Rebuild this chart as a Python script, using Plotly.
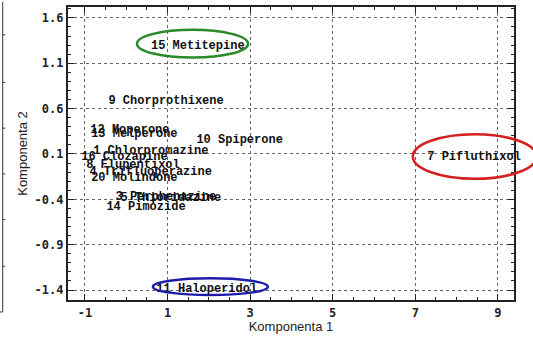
import plotly.graph_objects as go

# Component scores of the compounds (Komponenta 1, Komponenta 2)
labels = [
    "15 Metitepine", "9 Chorprothixene", "12 Moperone", "13 Melperone",
    "10 Spiperone", "1 Chlorpromazine", "16 Clozapine", "8 Flupentixol",
    "4 Trifluoperazine", "20 Molindone", "3 Perphenazine", "5 Thioridazine",
    "14 Pimozide", "11 Haloperidol", "7 Pifluthixol",
]
comp1 = [0.60, -0.43, -0.87, -0.85, 1.70, -0.80, -1.09, -0.97,
         -0.89, -0.85, -0.26, -0.14, -0.48, 0.73, 7.29]
comp2 = [1.29, 0.68, 0.36, 0.32, 0.25, 0.13, 0.07, -0.02,
         -0.10, -0.16, -0.37, -0.38, -0.48, -1.39, 0.07]

x_ticks = [-1, 1, 3, 5, 7, 9]
y_ticks = [1.6, 1.1, 0.6, 0.1, -0.4, -0.9, -1.4]
x_range = [-1.41, 9.39]
y_range = [-1.51, 1.72]

# Highlighted groups: (x0, x1, y0, y1, colour)
highlights = [
    (0.26, 2.95, 1.162, 1.469, "#2a8a2a"),
    (6.94, 9.94, -0.174, 0.318, "#d42020"),
    (0.646, 3.43, -1.456, -1.27, "#1c1caa"),
]

fig = go.Figure()
fig.add_trace(go.Scatter(
    x=comp1, y=comp2, mode="text", text=labels,
    textposition="middle right",
    textfont=dict(family="Liberation Mono", size=12, color="#111", weight="bold"),
    cliponaxis=False, showlegend=False, hoverinfo="skip",
))


def to_paper(v, rng):
    return (v - rng[0]) / (rng[1] - rng[0])


for x0, x1, y0, y1, col in highlights:
    fig.add_shape(
        type="circle", xref="paper", yref="paper",
        x0=to_paper(x0, x_range), x1=to_paper(x1, x_range),
        y0=to_paper(y0, y_range), y1=to_paper(y1, y_range),
        line=dict(color=col, width=2.5), layer="above",
    )

# Edge of the neighbouring panel on the left
fig.add_shape(type="line", xref="paper", yref="paper",
              x0=-0.1465, x1=-0.1465, y0=1.017, y1=-0.041,
              line=dict(color="#555", width=1.2))
fig.add_shape(type="line", xref="paper", yref="paper",
              x0=-0.1465, x1=-0.155, y0=-0.041, y1=-0.041,
              line=dict(color="#555", width=1.2))
for py in [33, 81, 127, 173, 219, 266]:
    yp = (300 - py) / 295
    fig.add_shape(type="line", xref="paper", yref="paper",
                  x0=-0.1465, x1=-0.1405, y0=yp, y1=yp,
                  line=dict(color="#555", width=1.2))

tickfont = dict(family="DejaVu Sans Mono", size=12, color="#222", weight="bold")
axis_common = dict(
    showline=True, linecolor="#222", linewidth=2.2, mirror="ticks",
    ticks="inside", ticklen=6, tickcolor="#222", tickwidth=1.2,
    showgrid=True, gridcolor="#666", griddash="dot", gridwidth=1,
    zeroline=False, tickfont=tickfont,
)

fig.update_xaxes(
    range=x_range, tickmode="array", tickvals=x_ticks,
    ticktext=[str(v) for v in x_ticks],
    minor=dict(dtick=0.5, tick0=-1, ticks="inside", ticklen=3,
               tickcolor="#222", showgrid=False),
    title=dict(text="Komponenta 1", standoff=3,
               font=dict(family="Liberation Sans", size=13, color="#222")),
    **axis_common,
)
fig.update_yaxes(
    range=y_range, tickmode="array", tickvals=y_ticks,
    ticktext=[f"{v:.1f}" for v in y_ticks],
    minor=dict(dtick=0.1, tick0=0.1, ticks="inside", ticklen=3,
               tickcolor="#222", showgrid=False),
    title=dict(text="Komponenta 2", standoff=4,
               font=dict(family="Liberation Sans", size=13, color="#222")),
    **axis_common,
)

fig.update_layout(
    width=533, height=343,
    margin=dict(l=68, r=19, t=5, b=43),
    paper_bgcolor="white", plot_bgcolor="white",
)

fig.write_html("out.html")
